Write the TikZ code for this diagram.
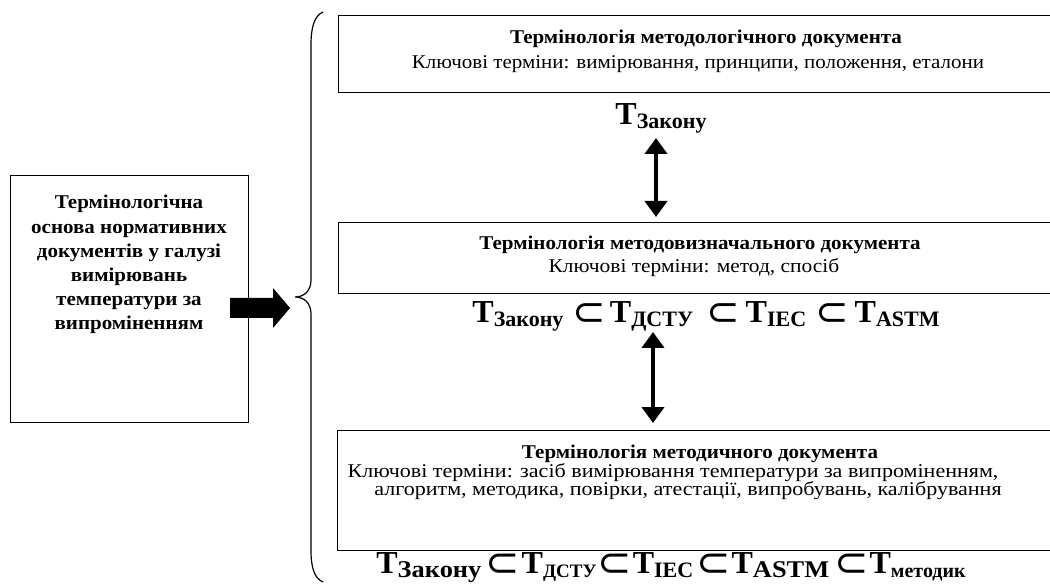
\documentclass[tikz,border=0pt]{standalone}
\usepackage{fontspec}
\usepackage{graphicx}
\setmainfont{Liberation Serif}
\newfontfamily\wideA[FakeStretch=1.077]{Liberation Serif}
\newfontfamily\wideB[FakeStretch=1.10]{Liberation Serif}
\newfontfamily\wideC[FakeStretch=1.13]{Liberation Serif}
\newfontfamily\dvs{DejaVu Sans}
\usetikzlibrary{arrows.meta}
% \Tbig[xscale]{size}{subscript}
\newcommand{\Tbig}[3][1]{{\fontsize{32}{32}\selectfont\bfseries T}\raisebox{-4pt}{\scalebox{#1}[1]{\fontsize{#2}{#2}\selectfont\bfseries #3}}}
\newcommand{\sbs}[1][40]{\raisebox{-3pt}{\fontsize{#1}{#1}\selectfont\dvs ⊂}}
\begin{document}
\begin{tikzpicture}[x=1pt,y=-1pt,
  box/.style={draw, line width=1.4pt, inner sep=0pt},
  ttl/.style={font=\fontsize{19.5}{24}\wideA\bfseries, inner sep=0pt, anchor=base},
  txt/.style={font=\fontsize{19.5}{21}\wideA, inner sep=0pt, anchor=base},
  frm/.style={inner sep=0pt, anchor=base},
  dbl/.style={line width=4.5pt, {Triangle[width=22pt,length=16pt]}-{Triangle[width=22pt,length=16pt]}},
  bigarrow/.style={fill=black},
  brace/.style={line width=1.2pt}
]
\clip (0,0) rectangle (1050,585);
% left box
\node[box, minimum width=238, minimum height=247, anchor=north west] (src) at (10,175) {};
\node[ttl, align=center, font=\fontsize{19.5}{24.2}\wideA\bfseries] (srct) at (129,330) {Термінологічна\\основа нормативних\\документів у галузі\\вимірювань\\температури за\\випроміненням};
% big arrow
\path[bigarrow] (230,298) -- (273,298) -- (273,288) -- (290,308) -- (273,328) -- (273,318) -- (230,318) -- cycle;
% brace
\draw[brace] (323,12) .. controls (314,16) and (311,28) .. (311,45) -- (311,280)
  .. controls (311,291) and (304,297) .. (295,297)
  .. controls (304,297) and (311,303) .. (311,314) -- (311,550)
  .. controls (311,567) and (314,578) .. (323,582);
% top box
\node[box, minimum width=730, minimum height=77, anchor=north west] (b1) at (338,15) {};
\node[ttl] (t1) at (706,44) {Термінологія методологічного документа};
\node[txt] (s1) at (698,69) {Ключові терміни: вимірювання, принципи, положення, еталони};
\node[frm] (f1) at (661,125) {\Tbig{22}{Закону}};
% middle box
\node[box, minimum width=730, minimum height=71, anchor=north west] (b2) at (338,222) {};
\node[ttl] (t2) at (700,250) {Термінологія методовизначального документа};
\node[txt, font=\fontsize{19.5}{21}\wideB] (s2) at (694,273) {Ключові терміни: метод, спосіб};
\node[frm] (f2) at (706,323) {\Tbig{22}{Закону}\hspace{9pt}\sbs\hspace{4pt}\Tbig{22}{ДСТУ}\hspace{13pt}\sbs\hspace{6pt}\Tbig{22}{IEC}\hspace{9pt}\sbs\hspace{6pt}\Tbig{22}{ASTM}};
% bottom box
\node[box, minimum width=731, minimum height=120, anchor=north west] (b3) at (337,430) {};
\node[ttl] (t3) at (700,458) {Термінологія методичного документа};
\node[txt, font=\fontsize{19.5}{21}\wideC] (s3) at (673,477) {Ключові терміни: засіб вимірювання температури за випроміненням,};
\node[txt, font=\fontsize{19.5}{21}\wideC] (s3b) at (688,495) {алгоритм, методика, повірки, атестації, випробувань, калібрування};
\node[frm] (f3) at (671,573) {\Tbig[1.1]{24}{Закону}\hspace{4pt}\sbs[41]\hspace{2pt}\Tbig{19}{ДСТУ}\hspace{1pt}\sbs[41]\hspace{1pt}\Tbig{22}{IEC}\hspace{3pt}\sbs[41]\hspace{1pt}\Tbig[1.1]{24}{ASTM}\hspace{5pt}\sbs[41]\hspace{1pt}\Tbig{20}{методик}};
% double arrows
\coordinate (a1t) at (656,138);
\coordinate (a1b) at (656,217);
\draw[dbl] (a1t) -- (a1b);
\coordinate (a2t) at (653,332);
\coordinate (a2b) at (653,423);
\draw[dbl] (a2t) -- (a2b);
\end{tikzpicture}
\end{document}
